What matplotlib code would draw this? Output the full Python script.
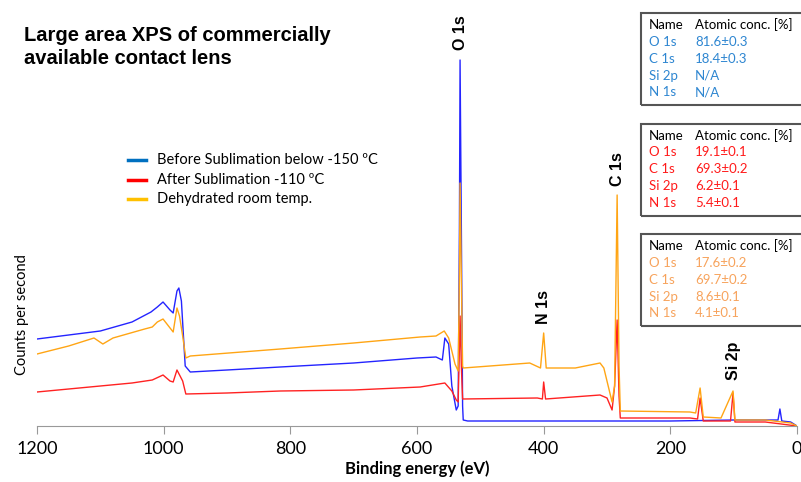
import matplotlib.pyplot as plt
from matplotlib.patches import Rectangle

# binding energy (eV) and counts (arb.)
e_before = [1200, 1150, 1100, 1050, 1020, 1010, 1001, 990, 985, 979, 976, 972, 966, 958, 900, 816, 700, 600,
            570, 560, 556, 550, 545, 538, 535, 533, 532, 530, 528, 527, 520, 400, 300, 200, 100, 30, 27, 24, 10, 0]
c_before = [87, 91, 95, 104, 114, 119, 124, 116, 113, 135, 138, 125, 60, 54, 56, 59, 63, 68,
            69, 66, 88, 82, 40, 16, 20, 200, 366, 200, 20, 6, 5, 5, 5, 5, 6, 6, 17, 5, 4, 0]

e_after = [1200, 1150, 1100, 1050, 1018, 1001, 990, 985, 979, 970, 965, 900, 816, 700, 595, 556, 545, 538,
           535, 533, 532, 530, 528, 410, 402, 400, 397, 311, 300, 292, 288, 284, 281, 279, 169, 157,
           153, 148, 105, 101, 98, 50, 0]
c_after = [34, 37, 40, 43, 46, 51, 45, 44, 56, 45, 32, 33, 35, 36, 39, 43, 35, 26,
           24, 80, 110, 60, 27, 28, 27, 44, 27, 31, 28, 16, 40, 106, 30, 8, 8, 7,
           28, 5, 5, 33, 4, 4, 0]

e_dehyd = [1200, 1150, 1110, 1096, 1080, 1030, 1018, 1010, 1001, 985, 979, 975, 970, 965, 958, 816, 700,
           595, 570, 557, 550, 540, 535, 533, 532, 530, 528, 527, 422, 405, 400, 396, 350, 311, 305,
           292, 288, 284, 281, 279, 169, 160, 153, 148, 120, 101, 98, 50, 10, 0]
c_dehyd = [72, 80, 88, 82, 88, 97, 99, 104, 107, 94, 118, 110, 90, 68, 70, 77, 83,
           89, 90, 95, 88, 62, 55, 150, 243, 150, 60, 58, 63, 58, 93, 58, 58, 63, 58,
           24, 40, 231, 60, 15, 14, 13, 38, 9, 8, 35, 6, 6, 3, 0]

legend_labels = ['Before Sublimation below -150 ºC', 'After Sublimation -110 ºC', 'Dehydrated room temp.']
legend_colors = ['#0070C0', '#FF0000', '#FFC000']

peak_names = ['O 1s', 'N 1s', 'C 1s', 'Si 2p']
peak_pos = [532, 400, 284, 101]
peak_top = [370, 96, 234, 40]

elements = ['O 1s', 'C 1s', 'Si 2p', 'N 1s']
conc_before = ['81.6±0.3', '18.4±0.3', 'N/A', 'N/A']
conc_after = ['19.1±0.1', '69.3±0.2', '6.2±0.1', '5.4±0.1']
conc_dehyd = ['17.6±0.2', '69.7±0.2', '8.6±0.1', '4.1±0.1']
table_colors = ['#2E86D1', '#FF1A1A', '#F7A35C']

fig = plt.figure(figsize=(8.01, 4.82), dpi=100)
W, H = 801, 482
ax = fig.add_axes([37 / W, (H - 426) / H, 760 / W, 421 / H])

ax.plot(e_before, c_before, color='#2424FF', lw=1.0)
ax.plot(e_after, c_after, color='#FF2222', lw=1.0)
ax.plot(e_dehyd, c_dehyd, color='#FFA514', lw=1.0)

ax.set_xlim(1200, 0)
ax.set_ylim(0, 421)
ax.set_xticks([1200, 1000, 800, 600, 400, 200, 0])
ax.tick_params(axis='x', direction='out', length=6, color='#999999', labelsize=13, pad=5)
for lab in ax.get_xticklabels():
    lab.set_family('Lato')
ax.set_yticks([])
for s in ['top', 'right', 'left']:
    ax.spines[s].set_visible(False)
ax.spines['bottom'].set_color('#999999')
ax.set_xlabel('Binding energy (eV)', fontsize=12, fontweight='bold', family='Lato', labelpad=2)

for name, e, h in zip(peak_names, peak_pos, peak_top):
    ax.text(e, h + 6, name, rotation=90, ha='center', va='bottom', fontsize=11.5,
            fontweight='bold', family='Liberation Sans', clip_on=False)

fig.text(22 / W, 1 - 315 / H, 'Counts per second', rotation=90, ha='center', va='center',
         fontsize=10.5, family='Lato')
fig.text(24 / W, 1 - 47 / H, 'Large area XPS of commercially\navailable contact lens',
         ha='left', va='center', fontsize=14.5, fontweight='bold', family='Liberation Sans',
         linespacing=1.25)

# legend
for i, (lab, col) in enumerate(zip(legend_labels, legend_colors)):
    y = 1 - (160 + i * 19.5) / H
    fig.add_artist(plt.Line2D([128 / W, 146 / W], [y, y], color=col, lw=2.5))
    fig.text(157 / W, y, lab, ha='left', va='center', fontsize=10.5, family='Lato')

# tables with atomic concentrations
tables = [conc_before, conc_after, conc_dehyd]
for t, (vals, col) in enumerate(zip(tables, table_colors)):
    top = 13 + t * 110.5
    fig.add_artist(Rectangle((641 / W, 1 - (top + 92) / H), 200 / W, 92 / H, transform=fig.transFigure,
                             fill=False, edgecolor='#555555', lw=1.5))
    fig.text(649 / W, 1 - (top + 12) / H, 'Name', fontsize=9.5, family='Lato', va='center')
    fig.text(695 / W, 1 - (top + 12) / H, 'Atomic conc. [%]', fontsize=9.5, family='Lato', va='center')
    for r, (el, v) in enumerate(zip(elements, vals)):
        y = 1 - (top + 29 + r * 16.8) / H
        fig.text(649 / W, y, el, fontsize=9.5, family='Lato', va='center', color=col)
        fig.text(695 / W, y, v, fontsize=9.5, family='Lato', va='center', color=col)

fig.savefig('out.png', dpi=100)
